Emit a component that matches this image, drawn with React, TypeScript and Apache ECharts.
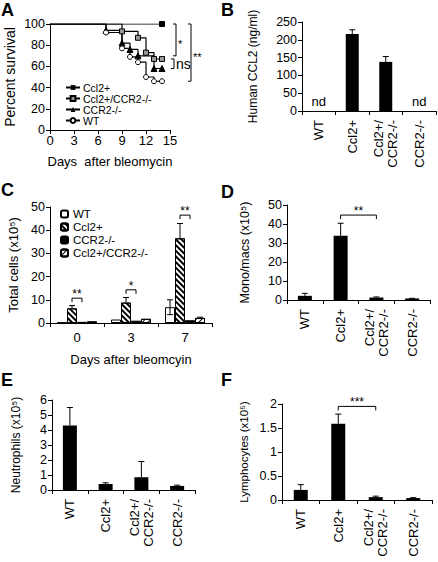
import React, { useEffect, useRef } from "react";
import * as echarts from "echarts";

const FONT = "'Liberation Sans', Arial, Helvetica, sans-serif";

// ---------- Panel A: survival ----------
const daysCcl2 = [0, 14];
const survCcl2 = [100, 100];
const daysCombo = [0, 9, 11, 12, 13, 14];
const survCombo = [100, 93, 87, 73, 67, 67];
const daysCcr2 = [0, 7, 9, 10, 11, 13, 14];
const survCcr2 = [100, 94, 82, 76, 70, 58, 58];
const daysWT = [0, 7, 9, 10, 11, 12, 13, 14];
const survWT = [100, 92, 77, 69, 64, 50, 46, 46];
// brackets: top value, bottom value, label
const aBracketTop = [100, 67, 100];
const aBracketBottom = [70, 58, 46];
const aBracketLabels = ["*", "ns", "**"];

// ---------- shared categories ----------
const genotypes = ["WT", "Ccl2+", "Ccl2+/\nCCR2-/-", "CCR2-/-"];

// ---------- Panel B ----------
const ccl2Values = [0, 216, 138, 0];
const ccl2Err = [0, 12, 15, 0];
const ccl2Nd = [true, false, false, true];

// ---------- Panel C ----------
const cDays = ["0", "3", "7"];
const cWT = [0.2, 1.5, 6.8];
const cWTErr = [0, 0, 3.2];
const cCcl2 = [6.3, 8.8, 36.5];
const cCcl2Err = [1.2, 2.2, 6.4];
const cCcr2 = [0.5, 1.0, 1.2];
const cCcr2Err = [0, 0, 0];
const cCombo = [0.7, 1.8, 2.2];
const cComboErr = [0, 0, 0.3];
const cSigLabels = ["**", "*", "**"];
const cSigY = [10.7, 14.3, 46.5];

// ---------- Panel D ----------
const dValues = [2.2, 33.8, 1.3, 0.8];
const dErr = [1.3, 6.6, 0.3, 0.1];
const dSigLabels = ["**"];
const dSigY = [44.7];

// ---------- Panel E ----------
const eValues = [4.3, 0.4, 0.85, 0.27];
const eErr = [1.2, 0.08, 1.05, 0.05];

// ---------- Panel F ----------
const fValues = [0.21, 1.59, 0.06, 0.04];
const fErr = [0.11, 0.2, 0.02, 0.01];
const fSigLabels = ["***"];
const fSigY = [1.95];

const BLACK = "#000";

function valueAxis(gridIndex: number, min: number, max: number, interval: number, name: string, nameGap: number, nameSize: number) {
  return {
    type: "value",
    gridIndex,
    min,
    max,
    interval,
    name,
    nameLocation: "middle",
    nameGap,
    nameTextStyle: { fontSize: nameSize, color: BLACK, fontFamily: FONT },
    axisLine: { show: true, lineStyle: { color: BLACK, width: 1 } },
    axisTick: { show: true, length: 4, lineStyle: { color: BLACK } },
    axisLabel: { fontSize: 12.5, color: BLACK, fontFamily: FONT, margin: 5 },
    splitLine: { show: false },
  };
}

function catAxis(gridIndex: number, data: string[], rotate: boolean) {
  return {
    type: "category",
    gridIndex,
    data,
    axisLine: { show: true, lineStyle: { color: BLACK, width: 1 } },
    axisTick: { show: true, length: 4, lineStyle: { color: BLACK } },
    axisLabel: rotate
      ? { rotate: 90, interval: 0, fontSize: 13, color: BLACK, fontFamily: FONT, margin: 9, lineHeight: 14 }
      : { interval: 0, fontSize: 13, color: BLACK, fontFamily: FONT, margin: 8 },
    splitLine: { show: false },
  };
}

function errSeries(idx: number, values: number[], errs: number[], offset: number, both: boolean) {
  return {
    type: "custom",
    xAxisIndex: idx,
    yAxisIndex: idx,
    z: 5,
    silent: true,
    data: values.map((v, i) => [i, v, errs[i]]),
    renderItem: (params: any, api: any) => {
      const c = api.value(0);
      const v = api.value(1);
      const e = api.value(2);
      if (!e) return null;
      const p0 = api.coord([c, both ? v - e : v]);
      const p1 = api.coord([c, v + e]);
      const x = p0[0] + offset;
      return {
        type: "group",
        children: [
          { type: "line", shape: { x1: x, y1: p0[1], x2: x, y2: p1[1] }, style: { stroke: BLACK, lineWidth: 1 } },
          { type: "line", shape: { x1: x - 3, y1: p1[1], x2: x + 3, y2: p1[1] }, style: { stroke: BLACK, lineWidth: 1 } },
          ...(both
            ? [{ type: "line", shape: { x1: x - 3, y1: p0[1], x2: x + 3, y2: p0[1] }, style: { stroke: BLACK, lineWidth: 1 } }]
            : []),
        ],
      };
    },
  };
}

function sigSeries(idx: number, cats1: number[], cats2: number[], ys: number[], labels: string[], off1: number, off2: number) {
  return {
    type: "custom",
    xAxisIndex: idx,
    yAxisIndex: idx,
    z: 6,
    silent: true,
    data: ys.map((y, i) => [cats1[i], y, cats2[i]]),
    renderItem: (params: any, api: any) => {
      const c1 = api.value(0);
      const y = api.value(1);
      const c2 = api.value(2);
      const p1 = api.coord([c1, y]);
      const p2 = api.coord([c2, y]);
      const x1 = p1[0] + off1;
      const x2 = p2[0] + off2;
      const yy = p1[1];
      return {
        type: "group",
        children: [
          {
            type: "polyline",
            shape: { points: [[x1, yy + 4], [x1, yy], [x2, yy], [x2, yy + 4]] },
            style: { stroke: BLACK, fill: "none", lineWidth: 1 },
          },
          {
            type: "text",
            x: (x1 + x2) / 2,
            y: yy + 2,
            style: { text: labels[params.dataIndex], align: "center", verticalAlign: "bottom", fontSize: 12, fill: BLACK, fontFamily: FONT },
          },
        ],
      };
    },
  };
}

function survData(days: number[], surv: number[]) {
  return days.map((d, i) => (i === 0 ? { value: [d, surv[i]], symbol: "none" } : { value: [d, surv[i]] }));
}

const hatchA = {
  symbol: "rect",
  symbolSize: 1,
  dashArrayX: [1, 0],
  dashArrayY: [1.5, 1.5],
  rotation: Math.PI / 4,
  color: BLACK,
  backgroundColor: "#fff",
};
const hatchB = {
  symbol: "rect",
  symbolSize: 1,
  dashArrayX: [1, 0],
  dashArrayY: [1, 2.5],
  rotation: -Math.PI / 4,
  color: BLACK,
  backgroundColor: "#fff",
};

export default function App() {
  const ref = useRef<HTMLDivElement>(null);
  useEffect(() => {
    document.body.style.margin = "0";
    if (!ref.current) return;
    const chart = echarts.init(ref.current, undefined, { renderer: "svg" });
    const cBarW = 10;
    const lineW = 1.2;
    const letter = (t: string, left: number, top: number) => ({
      type: "text",
      left,
      top,
      style: { text: t, fontSize: 18, fontWeight: "bold", fill: BLACK, fontFamily: FONT },
    });
    const option: any = {
      animation: false,
      backgroundColor: "#fff",
      textStyle: { fontFamily: FONT, color: BLACK },
      grid: [
        { left: 50, top: 24, width: 120, height: 106 },
        { left: 302, top: 22, width: 134, height: 89 },
        { left: 50, top: 207, width: 162, height: 116 },
        { left: 287, top: 205, width: 143, height: 95 },
        { left: 52, top: 400, width: 143, height: 90 },
        { left: 282, top: 404, width: 150, height: 96 },
      ],
      xAxis: [
        {
          type: "value",
          gridIndex: 0,
          min: 0,
          max: 15,
          interval: 3,
          name: "Days  after bleomycin",
          nameLocation: "middle",
          nameGap: 25,
          nameTextStyle: { fontSize: 13, color: BLACK, fontFamily: FONT },
          axisLine: { show: true, onZero: false, lineStyle: { color: BLACK } },
          axisTick: { show: true, length: 4, lineStyle: { color: BLACK } },
          axisLabel: { fontSize: 13, color: BLACK, fontFamily: FONT, margin: 4 },
          splitLine: { show: false },
        },
        catAxis(1, genotypes, true),
        {
          ...catAxis(2, cDays, false),
          name: "Days after bleomcyin",
          nameLocation: "middle",
          nameGap: 30,
          nameTextStyle: { fontSize: 13, color: BLACK, fontFamily: FONT },
        },
        catAxis(3, genotypes, true),
        catAxis(4, genotypes, true),
        catAxis(5, genotypes, true),
      ],
      yAxis: [
        valueAxis(0, 0, 100, 20, "Percent survival", 33, 14),
        valueAxis(1, 0, 250, 50, "Human CCL2 (ng/ml)", 43, 12),
        valueAxis(2, 0, 50, 10, "Total cells (x10⁵)", 30, 13),
        valueAxis(3, 0, 50, 10, "Mono/macs (x10⁵)", 36, 12.5),
        valueAxis(4, 0, 6, 1, "Neutrophils (x10⁵)", 30, 12),
        valueAxis(5, 0, 2, 0.5, "Lymphocytes (x10⁵)", 32, 11.5),
      ],
      legend: [
        {
          left: 60,
          top: 77,
          orient: "vertical",
          data: ["a:Ccl2+", "a:Ccl2+/CCR2-/-", "a:CCR2-/-", "a:WT"],
          formatter: (n: string) => n.slice(2),
          itemWidth: 14,
          itemHeight: 6,
          itemGap: 0,
          selectedMode: false,
          textStyle: { fontSize: 10.5, color: BLACK, fontFamily: FONT, padding: [0, 0, 0, -2] },
        },
        {
          left: 55,
          top: 203,
          orient: "vertical",
          data: ["c:WT", "c:Ccl2+", "c:CCR2-/-", "c:Ccl2+/CCR2-/-"],
          formatter: (n: string) => n.slice(2),
          itemWidth: 7,
          itemHeight: 7,
          itemGap: 1,
          selectedMode: false,
          textStyle: { fontSize: 11.5, color: BLACK, fontFamily: FONT },
        },
      ],
      graphic: [
        letter("A", 1, 1),
        letter("B", 221, 1),
        letter("C", 1, 181),
        letter("D", 221, 183),
        letter("E", 1, 371),
        letter("F", 221, 371),
      ],
      series: [
        // ----- A -----
        {
          name: "a:Ccl2+",
          type: "line",
          xAxisIndex: 0,
          yAxisIndex: 0,
          step: "end",
          color: BLACK,
          data: survData(daysCcl2, survCcl2),
          symbol: "rect",
          symbolSize: 5,
          lineStyle: { color: BLACK, width: lineW },
          itemStyle: { color: BLACK, borderColor: BLACK },
          z: 4,
        },
        {
          name: "a:Ccl2+/CCR2-/-",
          type: "line",
          xAxisIndex: 0,
          yAxisIndex: 0,
          step: "end",
          color: BLACK,
          data: survData(daysCombo, survCombo),
          symbol: "rect",
          symbolSize: 5,
          lineStyle: { color: BLACK, width: lineW },
          itemStyle: { color: "#999", borderColor: BLACK, borderWidth: 1 },
          z: 3,
        },
        {
          name: "a:CCR2-/-",
          type: "line",
          xAxisIndex: 0,
          yAxisIndex: 0,
          step: "end",
          color: BLACK,
          data: survData(daysCcr2, survCcr2),
          symbol: "triangle",
          symbolSize: 6,
          lineStyle: { color: BLACK, width: lineW },
          itemStyle: { color: BLACK, borderColor: BLACK },
          z: 3,
        },
        {
          name: "a:WT",
          type: "line",
          xAxisIndex: 0,
          yAxisIndex: 0,
          step: "end",
          color: BLACK,
          data: survData(daysWT, survWT),
          symbol: "circle",
          symbolSize: 5,
          lineStyle: { color: BLACK, width: lineW },
          itemStyle: { color: "#fff", borderColor: BLACK, borderWidth: 1 },
          z: 3,
        },
        {
          type: "custom",
          xAxisIndex: 0,
          yAxisIndex: 0,
          silent: true,
          z: 6,
          data: aBracketTop.map((t, i) => [t, aBracketBottom[i]]),
          renderItem: (params: any, api: any) => {
            const i = params.dataIndex;
            const offs = [6, 4, 21];
            const pT = api.coord([15, api.value(0)]);
            const pB = api.coord([15, api.value(1)]);
            const x = pT[0] + offs[i];
            const mid = (pT[1] + pB[1]) / 2;
            const isNs = aBracketLabels[i] === "ns";
            return {
              type: "group",
              children: [
                {
                  type: "polyline",
                  shape: { points: [[x - 3, pT[1]], [x, pT[1]], [x, pB[1]], [x - 3, pB[1]]] },
                  style: { stroke: BLACK, fill: "none", lineWidth: 1 },
                },
                {
                  type: "text",
                  x: x + 2,
                  y: isNs ? mid : mid + 4,
                  style: {
                    text: aBracketLabels[i],
                    align: "left",
                    verticalAlign: "middle",
                    fontSize: isNs ? 14 : 11,
                    fill: BLACK,
                    fontFamily: FONT,
                  },
                },
              ],
            };
          },
        },
        // ----- B -----
        {
          type: "bar",
          xAxisIndex: 1,
          yAxisIndex: 1,
          barWidth: 13,
          itemStyle: { color: BLACK },
          data: ccl2Values.map((v, i) =>
            ccl2Nd[i]
              ? { value: v, label: { show: true, position: "top", distance: 3, formatter: "nd", fontSize: 13, color: BLACK, fontFamily: FONT } }
              : v
          ),
        },
        errSeries(1, ccl2Values, ccl2Err, 0, false),
        // ----- C -----
        {
          name: "c:WT",
          type: "bar",
          xAxisIndex: 2,
          yAxisIndex: 2,
          barWidth: cBarW,
          barGap: "0%",
          itemStyle: { color: "#fff", borderColor: BLACK, borderWidth: 1 },
          data: cWT,
        },
        {
          name: "c:Ccl2+",
          type: "bar",
          xAxisIndex: 2,
          yAxisIndex: 2,
          barWidth: cBarW,
          barGap: "0%",
          itemStyle: { color: "#fff", borderColor: BLACK, borderWidth: 1, decal: hatchA },
          data: cCcl2,
        },
        {
          name: "c:CCR2-/-",
          type: "bar",
          xAxisIndex: 2,
          yAxisIndex: 2,
          barWidth: cBarW,
          barGap: "0%",
          itemStyle: { color: BLACK, borderColor: BLACK, borderWidth: 1 },
          data: cCcr2,
        },
        {
          name: "c:Ccl2+/CCR2-/-",
          type: "bar",
          xAxisIndex: 2,
          yAxisIndex: 2,
          barWidth: cBarW,
          barGap: "0%",
          itemStyle: { color: "#fff", borderColor: BLACK, borderWidth: 1, decal: hatchB },
          data: cCombo,
        },
        errSeries(2, cWT, cWTErr, -1.5 * cBarW, true),
        errSeries(2, cCcl2, cCcl2Err, -0.5 * cBarW, false),
        errSeries(2, cCcr2, cCcr2Err, 0.5 * cBarW, false),
        errSeries(2, cCombo, cComboErr, 1.5 * cBarW, false),
        sigSeries(2, [0, 1, 2], [0, 1, 2], cSigY, cSigLabels, -0.5 * cBarW, 0.5 * cBarW),
        // ----- D -----
        {
          type: "bar",
          xAxisIndex: 3,
          yAxisIndex: 3,
          barWidth: 14,
          itemStyle: { color: BLACK },
          data: dValues,
        },
        errSeries(3, dValues, dErr, 0, false),
        sigSeries(3, [1], [2], dSigY, dSigLabels, 0, 0),
        // ----- E -----
        {
          type: "bar",
          xAxisIndex: 4,
          yAxisIndex: 4,
          barWidth: 14,
          itemStyle: { color: BLACK },
          data: eValues,
        },
        errSeries(4, eValues, eErr, 0, false),
        // ----- F -----
        {
          type: "bar",
          xAxisIndex: 5,
          yAxisIndex: 5,
          barWidth: 14,
          itemStyle: { color: BLACK },
          data: fValues,
        },
        errSeries(5, fValues, fErr, 0, false),
        sigSeries(5, [1], [2], fSigY, fSigLabels, 0, 0),
      ],
    };
    chart.setOption(option);
    return () => chart.dispose();
  }, []);
  return <div ref={ref} style={{ width: 438, height: 562 }} />;
}
